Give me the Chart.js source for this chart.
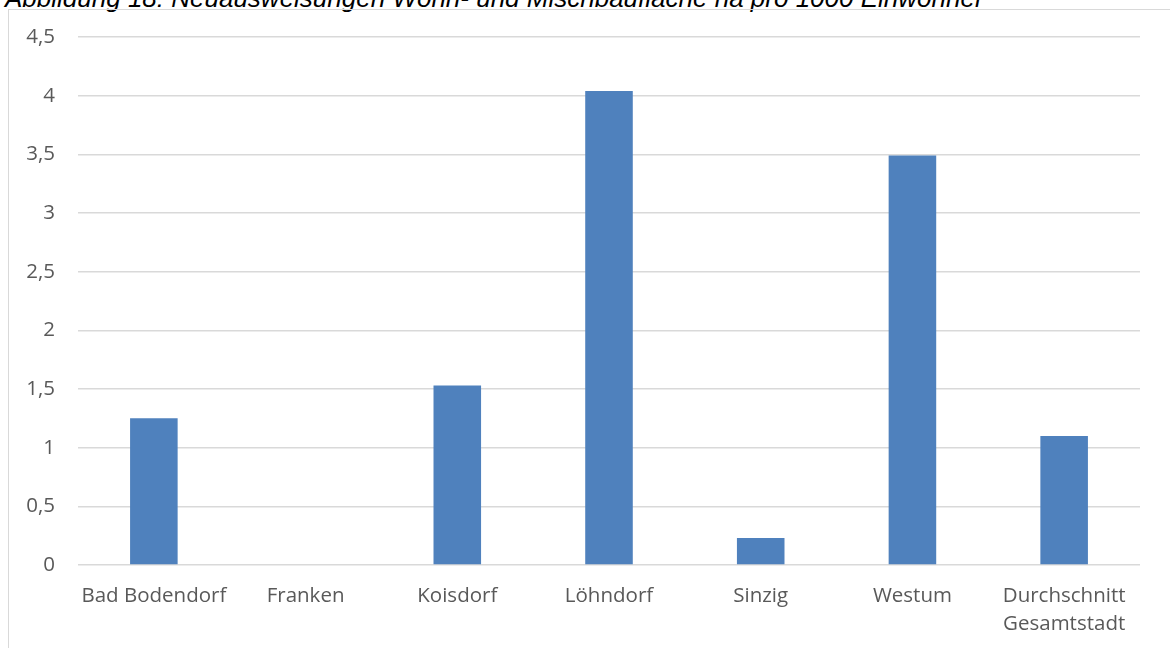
<!DOCTYPE html>
<html lang="de">
<head>
<meta charset="utf-8">
<title>Neuausweisungen Wohn- und Mischbaufläche</title>
<script src="https://cdn.jsdelivr.net/npm/chart.js@4/dist/chart.umd.min.js"></script>
<style>
  html, body { margin: 0; padding: 0; background: #fff; overflow: hidden; }
  #page { position: relative; width: 1170px; height: 648px; overflow: hidden; }
  #caption {
    position: absolute; left: 5px; top: -15px; margin: 0;
    font: italic 26px/26px "Liberation Sans", Arial, sans-serif;
    color: #000; white-space: nowrap;
  }
  #frame {
    position: absolute; left: 8px; top: 9px; width: 1200px; height: 700px;
    border-left: 1px solid #d9d9d9; border-top: 1px solid #d9d9d9;
    box-sizing: border-box;
  }
  #wrap { position: absolute; left: 0; top: 0; width: 1170px; height: 648px; }
</style>
</head>
<body>
<div id="page">
  <p id="caption">Abbildung 18: Neuausweisungen Wohn- und Mischbaufläche ha pro 1000 Einwohner</p>
  <div id="frame"></div>
  <div id="wrap"><canvas id="chart" width="1170" height="648"></canvas></div>
</div>
<script>
// Ortsteile und Neuausweisungen (ha je 1000 Einwohner)
const categories = [
  'Bad Bodendorf', 'Franken', 'Koisdorf', 'Löhndorf', 'Sinzig', 'Westum',
  ['Durchschnitt', 'Gesamtstadt']
];
const values = [1.25, 0, 1.53, 4.04, 0.23, 3.49, 1.1];
const yMin = 0;
const yMax = 4.5;
const yStep = 0.5;

const labelFont = { family: '"Open Sans", sans-serif', size: 20.5, lineHeight: 1.37 };

new Chart(document.getElementById('chart'), {
  type: 'bar',
  data: {
    labels: categories,
    datasets: [{
      data: values,
      backgroundColor: '#4f81bd',
      borderWidth: 0,
      categoryPercentage: 1,
      barPercentage: 0.3135
    }]
  },
  options: {
    responsive: false,
    animation: false,
    layout: { padding: { left: 0, right: 30, top: 37, bottom: 0 } },
    plugins: { legend: { display: false }, tooltip: { enabled: false } },
    scales: {
      x: {
        grid: { display: false, drawTicks: false },
        border: { display: false },
        ticks: { color: '#595959', font: labelFont, padding: 17, maxRotation: 0, autoSkip: false },
        afterFit: s => { s.height = 83; }
      },
      y: {
        min: yMin,
        max: yMax,
        grid: { color: '#d9d9d9', lineWidth: 1.5, drawTicks: false },
        border: { display: false },
        ticks: {
          stepSize: yStep,
          color: '#595959',
          font: labelFont,
          padding: 23,
          callback: v => String(Math.round(v * 10) / 10).replace('.', ',')
        },
        afterFit: s => { s.width = 78; }
      }
    }
  }
});
</script>
</body>
</html>
